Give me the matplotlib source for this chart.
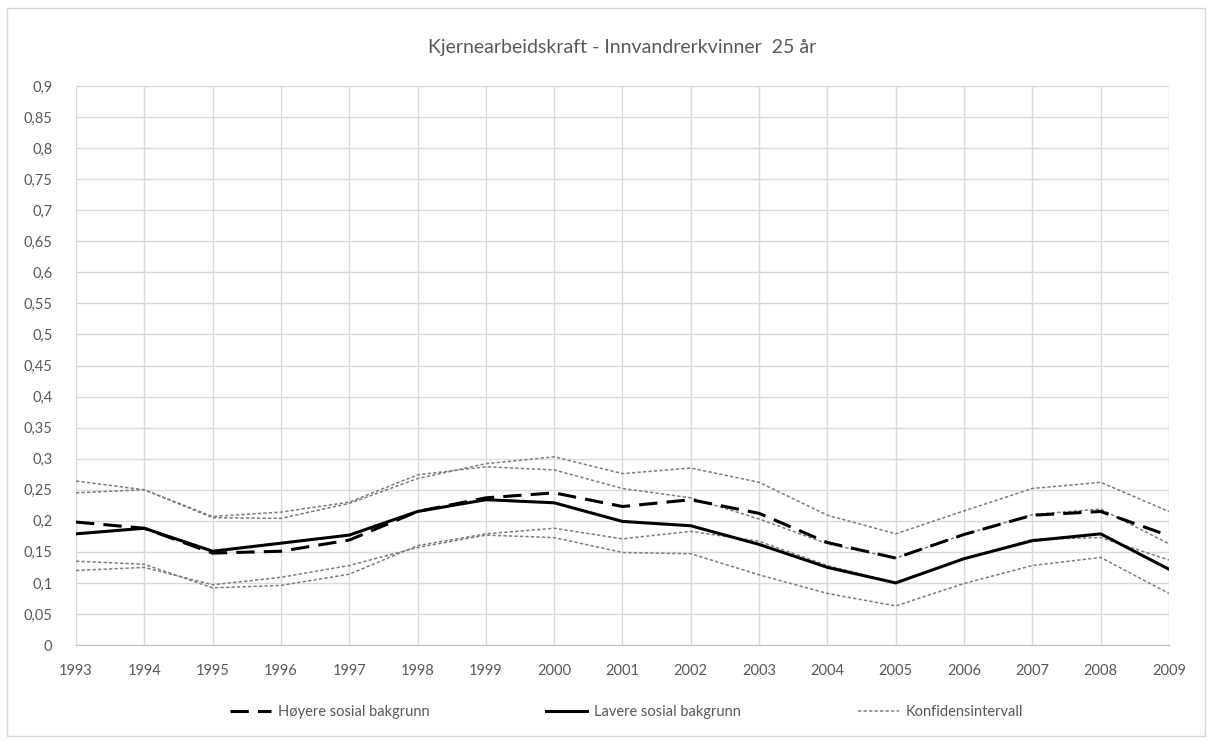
import matplotlib.pyplot as plt
from matplotlib.patches import Rectangle
from matplotlib.ticker import FuncFormatter, MultipleLocator

years = list(range(1993, 2010))

hoyere = [0.198, 0.188, 0.148, 0.151, 0.169, 0.215, 0.237, 0.245, 0.223,
          0.234, 0.212, 0.165, 0.140, 0.178, 0.209, 0.215, 0.176]
lavere = [0.179, 0.188, 0.151, 0.164, 0.177, 0.215, 0.234, 0.229, 0.199,
          0.192, 0.162, 0.125, 0.100, 0.139, 0.168, 0.179, 0.122]

hoyere_ovre = [0.264, 0.250, 0.205, 0.204, 0.228, 0.268, 0.292, 0.303, 0.276,
               0.285, 0.262, 0.209, 0.179, 0.216, 0.252, 0.262, 0.215]
hoyere_nedre = [0.135, 0.130, 0.092, 0.096, 0.114, 0.160, 0.179, 0.188, 0.171,
                0.183, 0.167, 0.128, 0.100, 0.139, 0.170, 0.173, 0.137]
lavere_ovre = [0.245, 0.250, 0.207, 0.214, 0.230, 0.274, 0.287, 0.282, 0.252,
               0.237, 0.203, 0.163, 0.140, 0.178, 0.210, 0.219, 0.163]
lavere_nedre = [0.120, 0.125, 0.097, 0.109, 0.128, 0.157, 0.177, 0.173, 0.149,
                0.147, 0.113, 0.083, 0.063, 0.099, 0.128, 0.141, 0.083]

plt.rcParams['font.family'] = ['Lato', 'DejaVu Sans']
txt = '#595959'

fig = plt.figure(figsize=(12.12, 7.42), dpi=100)
fig.patches.append(Rectangle((0.006, 0.008), 0.988, 0.981, transform=fig.transFigure,
                             fill=False, edgecolor='#d9d9d9', linewidth=1))
ax = fig.add_axes([0.0627, 0.1307, 0.9018, 0.7533])

ci_style = dict(color='#7f7f7f', linestyle=(0, (2.2, 1.4)), linewidth=1.1)
ax.plot(years, hoyere_ovre, **ci_style)
ax.plot(years, hoyere_nedre, **ci_style)
ax.plot(years, lavere_ovre, **ci_style)
ax.plot(years, lavere_nedre, **ci_style, label='Konfidensintervall')
ax.plot(years, hoyere, color='black', linewidth=2.2, linestyle=(0, (6, 3)),
        label='Høyere sosial bakgrunn')
ax.plot(years, lavere, color='black', linewidth=2.2, label='Lavere sosial bakgrunn')

ax.set_xlim(1993, 2009)
ax.set_ylim(0, 0.9)
ax.xaxis.set_major_locator(MultipleLocator(1))
ax.yaxis.set_major_locator(MultipleLocator(0.05))
ax.yaxis.set_major_formatter(FuncFormatter(lambda v, p: f"{v:.2f}".rstrip('0').rstrip(',.').replace('.', ',') if v else '0'))
ax.grid(True, color='#d9d9d9', linewidth=1)
ax.set_axisbelow(True)
for s in ['top', 'right', 'left']:
    ax.spines[s].set_visible(False)
ax.spines['bottom'].set_color('#bfbfbf')
ax.tick_params(length=0, labelsize=10.5, labelcolor=txt)
ax.tick_params(axis='x', pad=14)
ax.tick_params(axis='y', pad=17)

ax.set_title('Kjernearbeidskraft - Innvandrerkvinner  25 år', fontsize=14, color=txt, pad=24)

h, l = ax.get_legend_handles_labels()
order = [1, 2, 0]
fig.legend([h[i] for i in order], [l[i] for i in order], loc='center',
           bbox_to_anchor=(0.517, 0.04), ncol=3, frameon=False, fontsize=10.5,
           labelcolor=txt, handlelength=2.8, columnspacing=8.0, handletextpad=0.5)

fig.savefig('out.png', dpi=100)
